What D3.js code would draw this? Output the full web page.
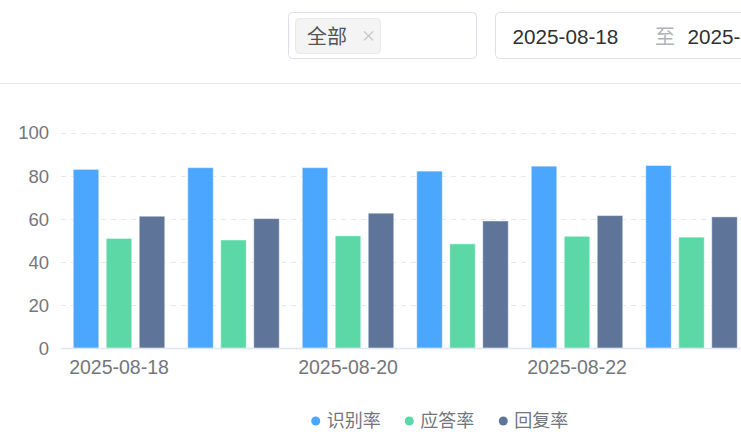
<!DOCTYPE html>
<html>
<head>
<meta charset="utf-8">
<script src="https://cdn.jsdelivr.net/npm/d3@7"></script>
<style>
  html, body { margin: 0; padding: 0; background: #fff; overflow: hidden; }
  svg { display: block; font-family: "Noto Sans CJK SC", "Noto Sans", sans-serif; }
</style>
</head>
<body>
<svg id="chart" width="741" height="444"></svg>
<script>
const categories = ["2025-08-18", "2025-08-19", "2025-08-20", "2025-08-21", "2025-08-22", "2025-08-23"];
const seriesNames = ["识别率", "应答率", "回复率"];
const recognitionRate = [82.9, 83.7, 83.7, 82.1, 84.4, 84.7];
const answerRate = [50.9, 50.2, 52.1, 48.4, 51.9, 51.5];
const replyRate = [61.2, 60.1, 62.6, 59.0, 61.5, 60.9];
const yTicks = [0, 20, 40, 60, 80, 100];
const colors = ["#4ba6fe", "#5bd8a6", "#5e7599"];
const filterTag = "全部";
const dateStart = "2025-08-18";
const dateSep = "至";
const dateEnd = "2025-08-23";

const seriesValues = [recognitionRate, answerRate, replyRate];
const svg = d3.select("#chart");

// ---- top filter bar ----
svg.append("rect").attr("x", 288.5).attr("y", 12.5).attr("width", 188).attr("height", 46)
  .attr("rx", 4).attr("fill", "#fff").attr("stroke", "#dcdfe6");
svg.append("rect").attr("x", 295.5).attr("y", 18.5).attr("width", 85).attr("height", 35)
  .attr("rx", 4).attr("fill", "#f4f4f5").attr("stroke", "#e9e9eb");
svg.append("text").attr("x", 307).attr("y", 43.5).attr("font-size", 20).attr("fill", "#555")
  .text(filterTag);
svg.append("text").attr("x", 361).attr("y", 41).attr("font-size", 15).attr("fill", "#c0c0c0")
  .text("×");
svg.append("rect").attr("x", 495.5).attr("y", 12.5).attr("width", 300).attr("height", 46)
  .attr("rx", 4).attr("fill", "#fff").attr("stroke", "#dcdfe6");
svg.append("text").attr("x", 512.5).attr("y", 43.5).attr("font-size", 20.7).attr("fill", "#303133")
  .attr("font-family", "Liberation Sans, Arial, sans-serif").text(dateStart);
svg.append("text").attr("x", 655).attr("y", 43.5).attr("font-size", 20).attr("fill", "#b0b3b8")
  .text(dateSep);
svg.append("text").attr("x", 687.5).attr("y", 43.5).attr("font-size", 20.7).attr("fill", "#303133")
  .attr("font-family", "Liberation Sans, Arial, sans-serif").text(dateEnd);
svg.append("line").attr("x1", 0).attr("x2", 741).attr("y1", 83.5).attr("y2", 83.5)
  .attr("stroke", "#e6e6e6").attr("stroke-width", 1);

// ---- chart ----
const x0 = d3.scaleBand().domain(categories).range([61.75, 61.75 + 114.5 * 6]).padding(0);
const x1 = d3.scaleBand().domain(seriesNames).range([11.5, 103]).paddingInner(0.227).paddingOuter(0);
const y = d3.scaleLinear().domain([0, 100]).range([348.3, 132.5]);

// grid lines
svg.append("g").selectAll("line").data(yTicks.filter(d => d !== 0)).join("line")
  .attr("x1", 61).attr("x2", 760)
  .attr("y1", d => Math.round(y(d)) + 0.5).attr("y2", d => Math.round(y(d)) + 0.5)
  .attr("stroke", "#e4e7eb").attr("stroke-dasharray", "5,5");

// y axis labels
const yAxis = d3.axisLeft(y).tickValues(yTicks).tickSize(0).tickPadding(0);
const gy = svg.append("g").attr("transform", "translate(49,0)").call(yAxis);
gy.select(".domain").remove();
gy.selectAll("text").attr("font-size", 18.5).attr("fill", "#74767d")
  .attr("font-family", "Liberation Sans, Arial, sans-serif").attr("dy", "0.35em");

// bars
const groups = svg.append("g").selectAll("g").data(categories).join("g")
  .attr("transform", d => `translate(${x0(d)},0)`);
groups.selectAll("rect").data((d, i) => seriesNames.map((s, k) => ({ s, k, v: seriesValues[k][i] })))
  .join("rect")
  .attr("x", d => x1(d.s))
  .attr("width", x1.bandwidth())
  .attr("y", d => y(d.v))
  .attr("height", d => y(0) - y(d.v))
  .attr("fill", d => colors[d.k])
  .attr("stroke", "rgba(255,255,255,0.45)").attr("stroke-width", 1);

// x axis
const xAxis = d3.axisBottom(x0).tickValues(categories.filter((d, i) => i % 2 === 0)).tickSize(0).tickPadding(0);
const gx = svg.append("g").attr("transform", "translate(0,348.5)").call(xAxis);
gx.select(".domain").remove();
svg.append("line").attr("x1", 61).attr("x2", 760).attr("y1", 348.5).attr("y2", 348.5)
  .attr("stroke", "#e0e6f1").attr("stroke-width", 1.5);
gx.selectAll("text").attr("font-size", 19.5).attr("fill", "#74767d").attr("dy", 0).attr("y", 25.5)
  .attr("font-family", "Liberation Sans, Arial, sans-serif");

// legend
const legendX = [315.7, 409.3, 503.3];
const legend = svg.append("g").selectAll("g").data(seriesNames).join("g")
  .attr("transform", (d, i) => `translate(${legendX[i]},421)`);
legend.append("circle").attr("r", 4.5).attr("fill", (d, i) => colors[i]);
legend.append("text").attr("x", 11).attr("y", 0).attr("dy", "0.36em").attr("font-size", 18)
  .attr("fill", "#74767d").text(d => d);
</script>
</body>
</html>
